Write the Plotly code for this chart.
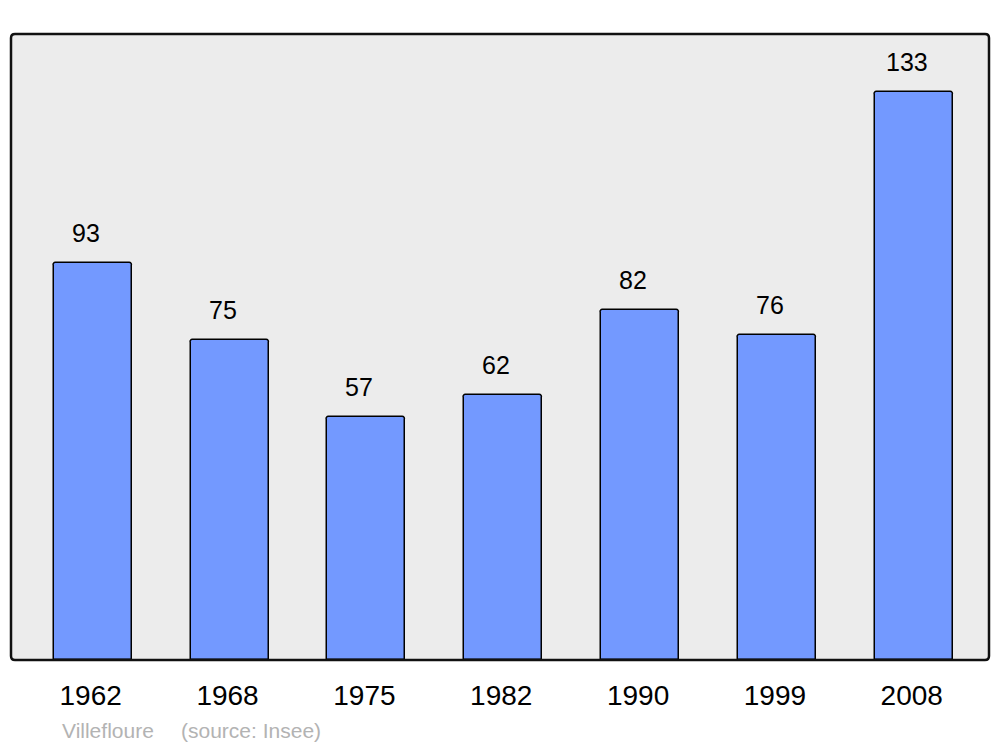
import plotly.graph_objects as go

years = ["1962", "1968", "1975", "1982", "1990", "1999", "2008"]
population = [93, 75, 57, 62, 82, 76, 133]
source_name = "Villefloure"
source_note = "(source: Insee)"

fig = go.Figure()
fig.add_trace(go.Bar(
    x=years, y=population,
    width=0.57,
    marker=dict(color="#7399ff", line=dict(color="#000000", width=1.5), cornerradius=3),
    hoverinfo="skip",
))

for i, (yr, v) in enumerate(zip(years, population)):
    fig.add_annotation(x=i, y=v, xref="x", yref="y", text=str(v), showarrow=False,
                       yanchor="bottom", yshift=14, xshift=-7,
                       font=dict(size=25, color="#000000", family="Liberation Sans"))

W, H = 978.0, 626.0
fig.add_annotation(xref="paper", yref="paper", x=(60 - 11) / W, y=-0.0905, xanchor="left", yanchor="top",
                   text=source_name, showarrow=False,
                   font=dict(size=21, color="#b3b3b3", family="Liberation Sans"))
fig.add_annotation(xref="paper", yref="paper", x=(179 - 11) / W, y=-0.0905, xanchor="left", yanchor="top",
                   text=source_note, showarrow=False,
                   font=dict(size=21, color="#b3b3b3", family="Liberation Sans"))

rx, ry = 4 / W, 4 / H
path = (f"M {rx},0 L {1-rx},0 Q 1,0 1,{ry} L 1,{1-ry} Q 1,1 {1-rx},1 "
        f"L {rx},1 Q 0,1 0,{1-ry} L 0,{ry} Q 0,0 {rx},0 Z")
fig.add_shape(type="path", xref="paper", yref="paper", path=path,
              line=dict(color="#111111", width=2.5), layer="above")

fig.update_layout(
    width=1000, height=747,
    margin=dict(l=11, r=11, t=34, b=87),
    paper_bgcolor="#ffffff", plot_bgcolor="#ececec",
    showlegend=False,
    xaxis=dict(type="category", range=[-0.597, 6.55], showgrid=False, zeroline=False,
               showline=False, ticks="",
               tickfont=dict(size=28, color="#000000", family="Liberation Sans"),
               ticklabelstandoff=16, ticklabelshift=-2),
    yaxis=dict(range=[0, 146.6], showgrid=False, zeroline=False, showticklabels=False,
               showline=False, ticks=""),
    bargap=0,
)

fig.write_html("out.html", config={"displayModeBar": False},
               post_script="document.body.style.margin='0';document.body.style.overflow='hidden';")
